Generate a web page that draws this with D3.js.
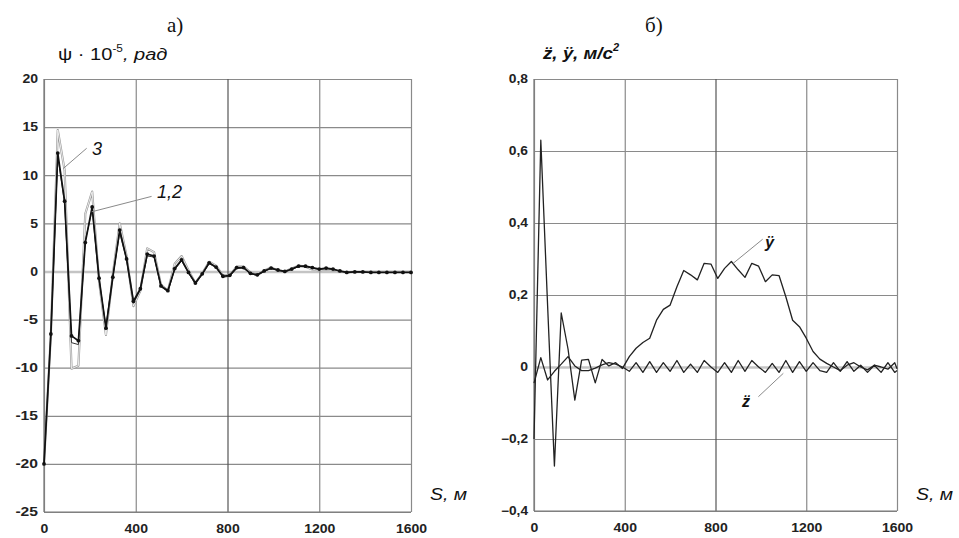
<!DOCTYPE html>
<html>
<head>
<meta charset="utf-8">
<script src="https://cdnjs.cloudflare.com/ajax/libs/d3/7.8.5/d3.min.js"></script>
<style>
  body { margin: 0; background: #fff; }
  svg { display: block; }
  .tick text { font-family: "Liberation Sans", Arial, sans-serif; font-weight: bold; font-size: 12px; fill: #222; }
  .lbl { font-family: "Liberation Sans", Arial, sans-serif; fill: #111; }
  .title { font-family: "Liberation Serif", "Times New Roman", serif; font-size: 21px; fill: #111; }
</style>
</head>
<body>
<svg id="chart" width="959" height="538"></svg>
<script>
// ---- data ----
const S_TICKS = [0, 400, 800, 1200, 1600];
const PSI_TICKS = [20, 15, 10, 5, 0, -5, -10, -15, -20, -25];
const ACC_TICKS = [0.8, 0.6, 0.4, 0.2, 0, -0.2, -0.4];

// panel a) : yaw angle psi * 1e-5, rad
const S_LEFT = [0, 30, 60, 90, 120, 150, 180, 210, 240, 270, 300, 330, 360, 390, 420, 450,
  480, 510, 540, 570, 600, 630, 660, 690, 720, 750, 780, 810, 840, 870, 900, 930, 960, 990,
  1020, 1050, 1080, 1110, 1140, 1170, 1200, 1230, 1260, 1290, 1320,
  1355, 1390, 1425, 1460, 1495, 1530, 1565, 1600];
const PSI_1 = [-20, -6.5, 12.3, 7.3, -6.7, -7.2, 3.0, 6.7, -0.7, -5.9,
  -0.6, 4.3, 1.3, -3.1, -1.8, 1.8, 1.6, -1.5, -2.0, 0.3,
  1.2, -0.1, -1.2, -0.25, 0.9, 0.45, -0.5, -0.4, 0.4, 0.4,
  -0.2, -0.35, 0.05, 0.35, 0.15, 0.0, 0.25, 0.55, 0.55, 0.4,
  0.25, 0.35, 0.25, 0.05, -0.1,
  -0.05, -0.05, -0.1, -0.1, -0.1, -0.1, -0.1, -0.1];
const PSI_2 = [-20, -6.5, 12.0, 7.0, -7.4, -7.6, 3.2, 6.4, -0.9, -5.7,
  -0.5, 4.0, 1.2, -3.3, -1.9, 1.6, 1.5, -1.6, -2.1, 0.2,
  1.1, -0.2, -1.3, -0.3, 0.8, 0.4, -0.6, -0.5, 0.3, 0.35,
  -0.25, -0.4, 0.0, 0.3, 0.1, -0.05, 0.2, 0.5, 0.5, 0.35,
  0.2, 0.3, 0.2, 0.0, -0.1,
  -0.05, -0.1, -0.1, -0.1, -0.1, -0.1, -0.1, -0.1];
const PSI_3 = [-20, -6.5, 14.7, 10.5, -10.1, -9.8, 6.0, 8.3, -1.0, -6.6,
  -0.3, 5.0, 1.6, -3.6, -2.0, 2.4, 2.0, -1.4, -2.0, 0.8,
  1.6, 0.1, -1.2, -0.2, 1.0, 0.6, -0.4, -0.4, 0.5, 0.5,
  -0.1, -0.4, 0.1, 0.4, 0.1, 0.0, 0.3, 0.6, 0.5, 0.2,
  0.1, 0.2, 0.1, 0.0, -0.1,
  -0.05, -0.05, -0.05, -0.05, -0.05, -0.05, -0.05, -0.05];

// panel б) : accelerations, m/s^2
const S_RIGHT = [0, 30, 60, 90, 120, 150, 180, 210, 240, 270, 300, 330, 360, 390, 420, 450,
  480, 510, 540, 570, 600, 630, 660, 690, 720, 750, 780, 810, 840, 870, 900, 930, 960, 990,
  1020, 1050, 1080, 1110, 1140, 1170, 1200, 1230, 1260, 1290, 1320, 1350, 1380, 1410, 1440,
  1470, 1500, 1530, 1560, 1590, 1600];
const Y_ACC = [-0.2, 0.63, 0.17, -0.275, 0.15, 0.05, -0.092, 0.019, 0.021, -0.044,
  0.021, 0.003, 0.012, -0.004, 0.029, 0.052, 0.068, 0.08, 0.13, 0.16,
  0.172, 0.223, 0.268, 0.256, 0.242, 0.288, 0.286, 0.246, 0.274, 0.293,
  0.27, 0.249, 0.288, 0.28, 0.237, 0.256, 0.254, 0.195, 0.13, 0.112,
  0.08, 0.043, 0.022, 0.01, 0.0, -0.01, 0.005, 0.012, 0.0, -0.008,
  0.005, 0.0, -0.006, 0.012, -0.005];
const Z_ACC = [-0.045, 0.026, -0.036, -0.012, 0.008, 0.029, 0.003, -0.01, -0.01, -0.003,
  0.006, 0.012, 0.008, 0.0, -0.012, 0.012, -0.015, 0.015, -0.015, 0.012,
  -0.012, 0.018, -0.015, 0.008, -0.015, 0.018, 0.0, -0.015, 0.012, -0.015,
  0.018, -0.012, 0.018, 0.0, -0.015, 0.01, -0.015, 0.018, -0.015, 0.015,
  -0.012, 0.012, -0.01, -0.015, 0.012, -0.012, 0.015, -0.012, 0.005, -0.015,
  0.005, -0.015, 0.012, -0.015, -0.01];

const svg = d3.select("#chart");

// stretch tick glyphs a little, the scan is wider than the font
function stretchText(sel) {
  sel.each(function () {
    const t = this.textContent;
    let w = 0;
    for (const c of t) w += c === "," ? 3.6 : c === "-" ? 7 : 7.8;
    d3.select(this).attr("textLength", w).attr("lengthAdjust", "spacingAndGlyphs");
  });
}

function drawPanel(p) {
  const x = d3.scaleLinear().domain([0, 1600]).range([p.left, p.right]);
  const y = d3.scaleLinear().domain(p.yDomain).range([p.bottom, p.top]);
  const g = svg.append("g");

  const yAxis = g.append("g")
    .attr("transform", `translate(${p.left},0)`)
    .call(d3.axisLeft(y).tickValues(p.yTicks).tickSize(-(p.right - p.left)).tickPadding(6).tickFormat(p.fmt));
  yAxis.select(".domain").remove();
  yAxis.selectAll(".tick line")
    .attr("stroke", d => d === 0 ? "#c4c4c4" : "#8a8a8a")
    .attr("stroke-width", d => d === 0 ? 2.6 : 1.2);

  const xAxis = g.append("g")
    .attr("transform", `translate(0,${p.bottom})`)
    .call(d3.axisBottom(x).tickValues(S_TICKS).tickSize(-(p.bottom - p.top)).tickPadding(12).tickFormat(d3.format("d")));
  xAxis.select(".domain").remove();
  xAxis.selectAll(".tick line")
    .attr("stroke", d => d === 800 ? "#555" : "#8a8a8a")
    .attr("stroke-width", 1.2);
  g.selectAll(".tick text").call(stretchText);

  // frame
  g.append("line").attr("x1", p.left).attr("x2", p.left).attr("y1", p.top).attr("y2", p.bottom)
    .attr("stroke", "#777").attr("stroke-width", 1.2);
  g.append("line").attr("x1", p.left).attr("x2", p.right).attr("y1", p.bottom).attr("y2", p.bottom)
    .attr("stroke", "#777").attr("stroke-width", 1.2);

  const line = d3.line().x(d => x(d[0])).y(d => y(d[1]));
  p.series.forEach(s => {
    const pts = s.values.map((v, i) => [s.xs[i], v]);
    if (s.hollow) {
      g.append("path").datum(pts).attr("d", line).attr("fill", "none")
        .attr("stroke", "#9a9a9a").attr("stroke-width", 2.2).attr("stroke-linejoin", "round");
      g.append("path").datum(pts).attr("d", line).attr("fill", "none")
        .attr("stroke", "#fff").attr("stroke-width", 0.8).attr("stroke-linejoin", "round");
    } else {
      g.append("path").datum(pts).attr("d", line).attr("fill", "none")
        .attr("stroke", s.color).attr("stroke-width", s.width).attr("stroke-linejoin", "round");
    }
    if (s.dots) {
      g.selectAll(null).data(pts).enter().append("circle")
        .attr("cx", d => x(d[0])).attr("cy", d => y(d[1])).attr("r", 1.9).attr("fill", "#111");
    }
  });

  // leader lines and curve labels
  p.notes.forEach(n => {
    g.append("line")
      .attr("x1", x(n.from[0])).attr("y1", y(n.from[1]))
      .attr("x2", x(n.to[0])).attr("y2", y(n.to[1]))
      .attr("stroke", "#8a8a8a").attr("stroke-width", 1);
    g.append("text").attr("class", "lbl")
      .attr("x", x(n.at[0])).attr("y", y(n.at[1]))
      .attr("font-size", n.size).attr("font-style", "italic").attr("font-weight", n.bold ? "bold" : "normal")
      .text(n.text);
  });

  // title
  g.append("text").attr("class", "title").attr("x", p.titleX).attr("y", 32).text(p.title);

  // S, м
  g.append("text").attr("class", "lbl").attr("x", p.right + 19).attr("y", 500)
    .attr("font-size", 17).attr("font-style", "italic")
    .attr("textLength", 37).attr("lengthAdjust", "spacingAndGlyphs")
    .text("S, м");

  return g;
}

const commaFmt = d => d === 0 ? "0" : d3.format(".1f")(d).replace(".", ",");

const left = drawPanel({
  left: 44, right: 411, top: 79, bottom: 512,
  yDomain: [-25, 20], yTicks: PSI_TICKS, fmt: d => String(d),
  title: "а)", titleX: 167,
  series: [
    { xs: S_LEFT, values: PSI_3, hollow: true },
    { xs: S_LEFT, values: PSI_2, color: "#333", width: 1 },
    { xs: S_LEFT, values: PSI_1, color: "#111", width: 1.7, dots: true }
  ],
  notes: [
    { text: "3", from: [186, 12.8], to: [84, 10.7], at: [209, 12.1], size: 18 },
    { text: "1,2", from: [469, 7.8], to: [208, 6.2], at: [493, 7.6], size: 18 }
  ]
});

// y axis label a)
const la = left.append("text").attr("class", "lbl")
  .attr("transform", "translate(58,60) scale(1.18,1)").attr("font-size", 17);
la.append("tspan").text("ψ · 10");
la.append("tspan").attr("font-size", 10).attr("dy", -8).text("-5");
la.append("tspan").attr("dy", 8).attr("font-style", "italic").text(", рад");

const right = drawPanel({
  left: 534, right: 897, top: 79, bottom: 511,
  yDomain: [-0.4, 0.8], yTicks: ACC_TICKS, fmt: commaFmt,
  title: "б)", titleX: 645,
  series: [
    { xs: S_RIGHT, values: Z_ACC, color: "#222", width: 1.3 },
    { xs: S_RIGHT, values: Y_ACC, color: "#222", width: 1.3 }
  ],
  notes: [
    { text: "ÿ", from: [1008, 0.355], to: [878, 0.288], at: [1018, 0.33], size: 16, bold: true },
    { text: "z\u0308", from: [989, -0.0825], to: [1099, -0.0175], at: [917, -0.111], size: 16, bold: true }
  ]
});

// y axis label б)
const lb = right.append("text").attr("class", "lbl")
  .attr("transform", "translate(543,59) scale(1.1,1)")
  .attr("font-size", 17).attr("font-style", "italic").attr("font-weight", "bold");
lb.append("tspan").text("z\u0308, ÿ, м/с");
lb.append("tspan").attr("font-size", 10).attr("dy", -8).text("2");
</script>
</body>
</html>
